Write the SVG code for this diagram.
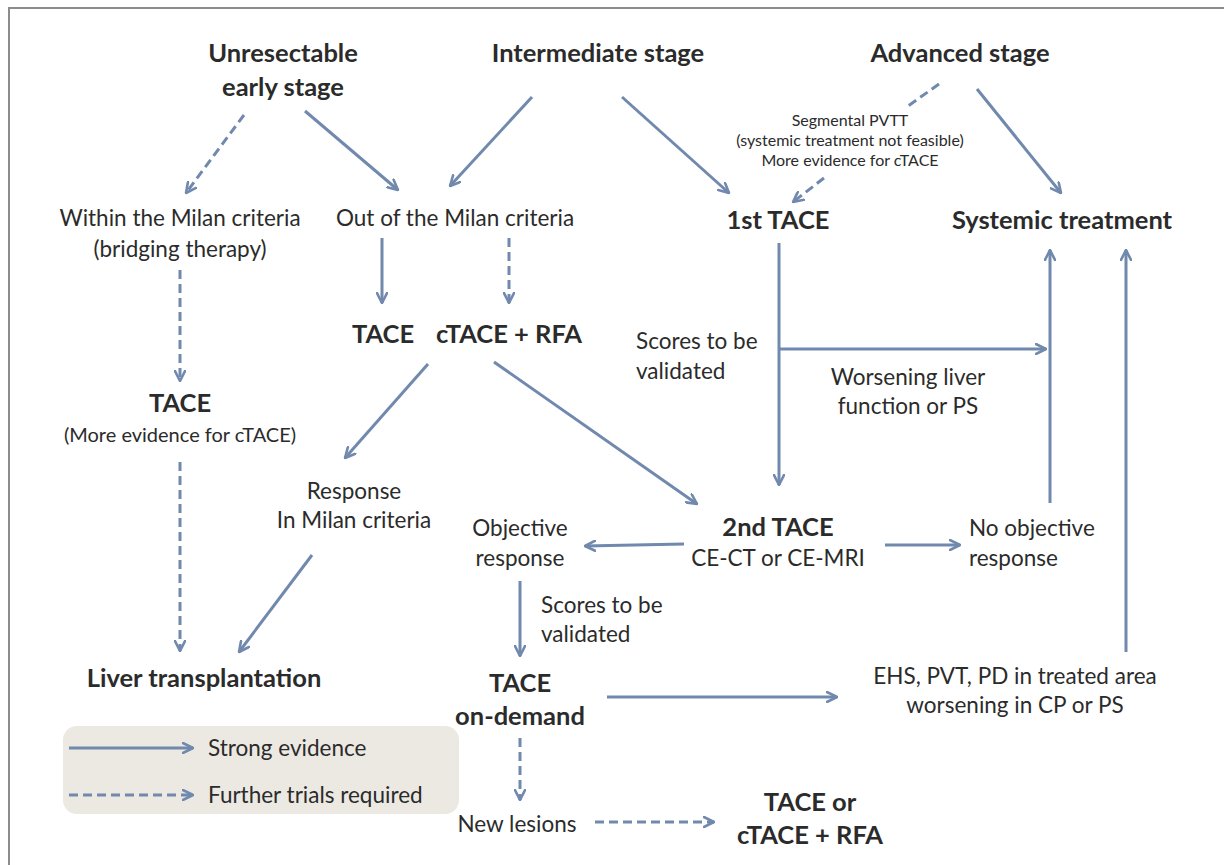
<svg xmlns="http://www.w3.org/2000/svg" width="1224" height="865" viewBox="0 0 1224 865">
  <defs>
    <marker id="head" viewBox="0 0 12 12" refX="11" refY="6" markerWidth="12" markerHeight="12" markerUnits="userSpaceOnUse" orient="auto">
      <path d="M1,1 L11,6 L1,11" fill="none" stroke="#7089ad" stroke-width="2.6" stroke-linecap="round" stroke-linejoin="round"/>
    </marker>
    <style>
      text { font-family: Lato, "Open Sans", "Liberation Sans", sans-serif; fill: #2b2b2b; text-anchor: middle; }
      .b { font-weight: bold; font-size: 25.5px; }
      .r { font-size: 22.5px; }
      .s { font-size: 16px; }
      .m { font-size: 20px; }
      .l { text-anchor: start; }
      .solid { fill: none; stroke: #7089ad; stroke-width: 3; marker-end: url(#head); }
      .dash { fill: none; stroke: #7089ad; stroke-width: 3; stroke-dasharray: 9 5; marker-end: url(#head); }
      .plain { fill: none; stroke: #7089ad; stroke-width: 3; stroke-dasharray: 9 5; }
    </style>
  </defs>

  <rect width="1224" height="865" fill="#ffffff"/>
  <rect x="9" y="8" width="1230" height="880" fill="none" stroke="#8c8c8c" stroke-width="2"/>

  <!-- legend -->
  <g id="legend">
    <rect x="63" y="726" width="396" height="88" rx="14" fill="#ece9e3"/>
    <line x1="69" y1="748" x2="193" y2="748" class="solid"/>
    <line x1="69" y1="795" x2="193" y2="795" class="dash"/>
    <text x="208" y="756" class="r l">Strong evidence</text>
    <text x="208" y="803" class="r l">Further trials required</text>
  </g>

  <!-- nodes -->
  <g id="unresectable"><text x="283" y="62" class="b">Unresectable</text><text x="283" y="96" class="b">early stage</text></g>
  <g id="intermediate"><text x="598" y="62" class="b">Intermediate stage</text></g>
  <g id="advanced"><text x="960" y="62" class="b">Advanced stage</text></g>
  <g id="segmental"><text x="850" y="126" class="s">Segmental PVTT</text><text x="850" y="146" class="s">(systemic treatment not feasible)</text><text x="850" y="166" class="s">More evidence for cTACE</text></g>
  <g id="within"><text x="180" y="226" class="r">Within the Milan criteria</text><text x="180" y="257" class="r">(bridging therapy)</text></g>
  <g id="outof"><text x="455" y="226" class="r">Out of the Milan criteria</text></g>
  <g id="tace1st"><text x="778" y="229" class="b">1st TACE</text></g>
  <g id="systemic"><text x="1062" y="229" class="b">Systemic treatment</text></g>
  <g id="tace-mid"><text x="383" y="343" class="b">TACE</text></g>
  <g id="ctace-rfa"><text x="509" y="343" class="b">cTACE + RFA</text></g>
  <g id="scores1"><text x="636" y="349" class="r l">Scores to be</text><text x="636" y="379" class="r l">validated</text></g>
  <g id="worsening"><text x="908" y="385" class="r">Worsening liver</text><text x="908" y="414" class="r">function or PS</text></g>
  <g id="tace-left"><text x="180" y="412" class="b">TACE</text><text x="180" y="442" class="m">(More evidence for cTACE)</text></g>
  <g id="response"><text x="354" y="499" class="r">Response</text><text x="354" y="528" class="r">In Milan criteria</text></g>
  <g id="objective"><text x="520" y="536" class="r">Objective</text><text x="520" y="566" class="r">response</text></g>
  <g id="tace2nd"><text x="778" y="536" class="b">2nd TACE</text><text x="778" y="566" class="r">CE-CT or CE-MRI</text></g>
  <g id="noobjective"><text x="969" y="536" class="r l">No objective</text><text x="969" y="566" class="r l">response</text></g>
  <g id="scores2"><text x="541" y="613" class="r l">Scores to be</text><text x="541" y="642" class="r l">validated</text></g>
  <g id="transplant"><text x="204" y="687" class="b">Liver transplantation</text></g>
  <g id="ondemand"><text x="520" y="692" class="b">TACE</text><text x="520" y="725" class="b">on-demand</text></g>
  <g id="ehs"><text x="1015" y="684" class="r">EHS, PVT, PD in treated area</text><text x="1015" y="713" class="r">worsening in CP or PS</text></g>
  <g id="newlesions"><text x="517" y="832" class="r">New lesions</text></g>
  <g id="tace-or"><text x="810" y="811" class="b">TACE or</text><text x="810" y="844" class="b">cTACE + RFA</text></g>

  <!-- connectors -->
  <g id="connectors">
    <line x1="244" y1="115" x2="186" y2="193" class="dash"/>
    <line x1="305" y1="111" x2="398" y2="190" class="solid"/>
    <line x1="532" y1="97" x2="450" y2="186" class="solid"/>
    <line x1="622" y1="97" x2="729" y2="193" class="solid"/>
    <line x1="939" y1="84" x2="908" y2="106" class="plain"/>
    <line x1="824" y1="178" x2="793" y2="202" class="dash"/>
    <line x1="977" y1="89" x2="1061" y2="193" class="solid"/>
    <line x1="382" y1="238" x2="382" y2="303" class="solid"/>
    <line x1="509" y1="238" x2="509" y2="303" class="dash"/>
    <line x1="180" y1="270" x2="180" y2="381" class="dash"/>
    <line x1="180" y1="462" x2="180" y2="651" class="dash"/>
    <line x1="428" y1="364" x2="345" y2="458" class="solid"/>
    <line x1="494" y1="362" x2="697" y2="504" class="solid"/>
    <line x1="312" y1="555" x2="239" y2="652" class="solid"/>
    <line x1="779" y1="243" x2="779" y2="485" class="solid"/>
    <line x1="779" y1="349" x2="1046" y2="349" class="solid"/>
    <line x1="684" y1="544" x2="585" y2="546" class="solid"/>
    <line x1="885" y1="545" x2="960" y2="545" class="solid"/>
    <line x1="1050" y1="503" x2="1050" y2="250" class="solid"/>
    <line x1="1126" y1="652" x2="1126" y2="250" class="solid"/>
    <line x1="520" y1="581" x2="520" y2="656" class="solid"/>
    <line x1="607" y1="697" x2="837" y2="697" class="solid"/>
    <line x1="520" y1="738" x2="520" y2="800" class="dash"/>
    <line x1="595" y1="822" x2="714" y2="822" class="dash"/>
  </g>
</svg>
